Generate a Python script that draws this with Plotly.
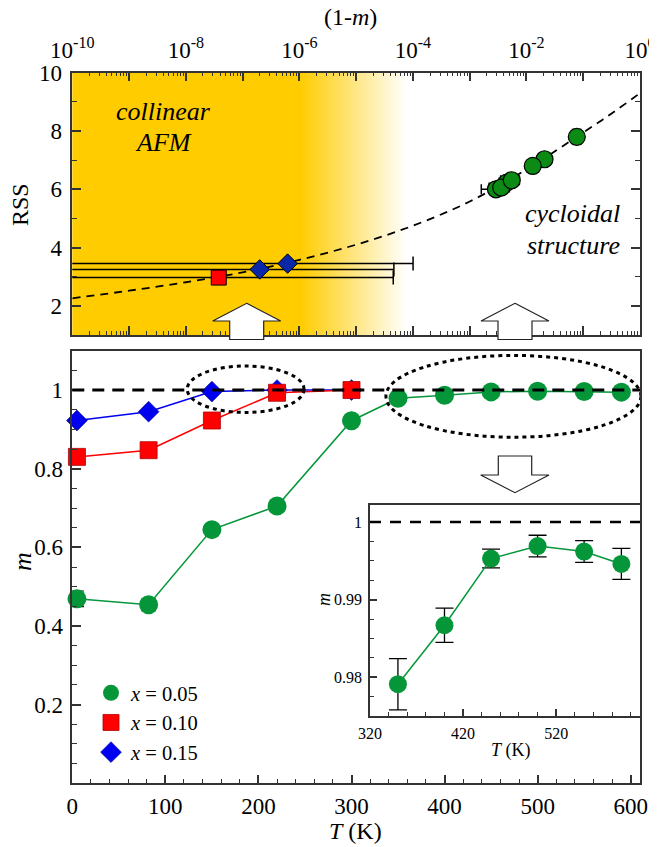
import plotly.graph_objects as go

OFF = 8                      # page body margin
W, H = 657 - OFF, 847 - OFF  # figure size so the page fits the window
FONT = "Liberation Serif"
AX = "#333333"

# ---------------- top panel data: RSS vs (1-m) ----------------
curve_one_minus_m = [1e-10, 1e-9, 1e-8, 1e-7, 1e-6, 1e-5, 1e-4, 1e-3, 1e-2, 1e-1, 0.316, 1.0]
curve_rss = [2.26, 2.52, 2.81, 3.15, 3.58, 4.10, 4.75, 5.58, 6.68, 7.95, 8.60, 9.30]

top_green_x = [0.077, 0.0208, 0.0129, 0.0045, 0.0029, 0.0036, 0.0055]
top_green_rss = [7.80, 7.03, 6.80, 6.23, 6.00, 6.06, 6.31]
top_green_xerr = [0.008, 0.0033, 0.0022, 0.0012, 0.0013, 0.0014, 0.0020]
top_green_yerr = [0.25, 0.20, 0.20, 0.20, 0.20, 0.20, 0.20]

top_red_x = [3.8e-8]
top_red_rss = [2.97]
top_red_xerr = [4.5e-5]

top_blue_x = [2.0e-7, 6.2e-7]
top_blue_rss = [3.25, 3.45]
top_blue_xerr = [4.6e-5, 1.0e-4]

top_ticks = [1e-10, 1e-9, 1e-8, 1e-7, 1e-6, 1e-5, 1e-4, 1e-3, 1e-2, 1e-1, 1.0]
top_ticktext = ["10<sup>-10</sup>", " ", "10<sup>-8</sup>", " ", "10<sup>-6</sup>", " ",
                "10<sup>-4</sup>", " ", "10<sup>-2</sup>", " ", "10<sup>0</sup>"]

# ---------------- bottom panel data: m vs T ----------------
T_green = [5, 82, 150, 220, 300, 350, 400, 450, 500, 550, 590]
m_green = [0.469, 0.454, 0.645, 0.705, 0.922, 0.9791, 0.9867, 0.9953, 0.9969, 0.9962, 0.9946]
err_green = [0.020, 0.015, 0.010, 0.008, 0.006, 0.0033, 0.0022, 0.0012, 0.0014, 0.0014, 0.0020]

T_red = [5, 82, 150, 220, 300]
m_red = [0.830, 0.847, 0.9225, 0.993, 1.000]
err_red = [0.010, 0.008, 0.006, 0.004, 0.002]

T_blue = [5, 82, 150, 220, 300]
m_blue = [0.9225, 0.945, 0.996, 1.000, 1.000]
err_blue = [0.001, 0.001, 0.001, 0.001, 0.002]

main_yticks = [0.2, 0.4, 0.6, 0.8, 1.0]
main_yticktext = ["0.2", "0.4", "0.6", "0.8", "1"]
inset_yticks = [0.98, 0.99, 1.0]
inset_yticktext = ["0.98", "0.99", "1"]
inset_xticks = [320, 420, 520]

GREEN_TOP = "#0B8A14"
BLUE_TOP = "#0828A8"
GREEN = "#05963A"
RED = "#FF0000"
BLUE = "#0000F0"


def fx(x):
    return (x - OFF) / W


def fy(y):
    return 1 - (y - OFF) / H


fig = go.Figure()

# ---------- top panel ----------
fig.add_trace(go.Scatter(x=curve_one_minus_m, y=curve_rss, mode="lines",
                         line=dict(color="black", width=1.8, dash="8px,6px", shape="spline"),
                         xaxis="x", yaxis="y", showlegend=False, hoverinfo="skip"))
fig.add_trace(go.Scatter(x=top_red_x + top_blue_x, y=top_red_rss + top_blue_rss, mode="markers",
                         marker=dict(size=1, opacity=0),
                         error_x=dict(type="data", array=top_red_xerr + top_blue_xerr, color="black", thickness=1.5, width=7),
                         xaxis="x", yaxis="y", showlegend=False))
fig.add_trace(go.Scatter(x=top_red_x, y=top_red_rss, mode="markers",
                         marker=dict(symbol="square", size=15, color=RED, line=dict(color="black", width=1)),
                         xaxis="x", yaxis="y", showlegend=False))
fig.add_trace(go.Scatter(x=top_blue_x, y=top_blue_rss, mode="markers",
                         marker=dict(symbol="diamond", size=15, color=BLUE_TOP, line=dict(color="black", width=1)),
                         xaxis="x", yaxis="y", showlegend=False))
fig.add_trace(go.Scatter(x=top_green_x, y=top_green_rss, mode="markers",
                         marker=dict(symbol="circle", size=17, color=GREEN_TOP, line=dict(color="black", width=1.2)),
                         error_x=dict(type="data", array=top_green_xerr, color="black", thickness=1.5, width=5),
                         error_y=dict(type="data", array=top_green_yerr, color="black", thickness=1.5, width=5),
                         xaxis="x", yaxis="y", showlegend=False))

# ---------- bottom panel: connecting lines ----------
for tx, ty, col in ((T_blue, m_blue, BLUE), (T_red, m_red, RED), (T_green, m_green, GREEN)):
    fig.add_trace(go.Scatter(x=tx, y=ty, mode="lines", line=dict(color=col, width=1.5),
                             xaxis="x2", yaxis="y2", showlegend=False, hoverinfo="skip", cliponaxis=False))

# ---------- bottom panel: markers ----------
fig.add_trace(go.Scatter(x=T_blue, y=m_blue, mode="markers", name="<i>x</i> = 0.15", legendrank=3,
                         marker=dict(symbol="diamond", size=16, color=BLUE, line=dict(color="#00008A", width=0.6)),
                         error_y=dict(type="data", array=err_blue, color="black", thickness=1.2, width=6),
                         xaxis="x2", yaxis="y2", cliponaxis=False))
fig.add_trace(go.Scatter(x=T_red, y=m_red, mode="markers", name="<i>x</i> = 0.10", legendrank=2,
                         marker=dict(symbol="square", size=17, color=RED, line=dict(color="#B00000", width=0.8)),
                         error_y=dict(type="data", array=err_red, color="black", thickness=1.2, width=6),
                         xaxis="x2", yaxis="y2", cliponaxis=False))
fig.add_trace(go.Scatter(x=T_green, y=m_green, mode="markers", name="<i>x</i> = 0.05", legendrank=1,
                         marker=dict(symbol="circle", size=19, color=GREEN, line=dict(color=GREEN, width=0)),
                         error_y=dict(type="data", array=err_green, color="black", thickness=1.2, width=7),
                         xaxis="x2", yaxis="y2", cliponaxis=False))

# ---------- inset ----------
fig.add_trace(go.Scatter(x=T_green[5:], y=m_green[5:], mode="lines+markers", showlegend=False,
                         line=dict(color=GREEN, width=1.5),
                         marker=dict(symbol="circle", size=18, color=GREEN),
                         error_y=dict(type="data", array=err_green[5:], color="black", thickness=1.3, width=9),
                         xaxis="x3", yaxis="y3", cliponaxis=False))

xd = [fx(72.3), fx(640)]
top_d = [fy(335), fy(72.7)]
bot_d = [fy(783.3), fy(350.7)]
ins_x = [fx(370), fx(640)]
ins_y = [fy(716), fy(505)]

common = dict(showline=True, linecolor=AX, linewidth=1.5, ticks="inside", tickcolor=AX, tickwidth=1.5,
              showgrid=False, zeroline=False, automargin=False, tickfont=dict(family=FONT, size=23, color="black"))

fig.update_layout(
    width=W, height=H, margin=dict(l=0, r=0, t=0, b=0, autoexpand=False),
    paper_bgcolor="white", plot_bgcolor="white",
    font=dict(family=FONT, color="black"),
    xaxis=dict(common, type="log", range=[-10, 0], side="top", domain=xd, anchor="y",
               tickmode="array", tickvals=top_ticks, ticktext=top_ticktext, ticklen=9, mirror="ticks",
               minor=dict(ticks="inside", ticklen=4, dtick="D1", tickcolor=AX, tickwidth=1.2), ticklabelstandoff=4),
    yaxis=dict(common, range=[1, 10], tick0=0, dtick=2, domain=top_d, anchor="x", ticklen=9, mirror="ticks",
               minor=dict(ticks="inside", ticklen=5, dtick=1, tick0=1, tickcolor=AX, tickwidth=1.2), ticklabelstandoff=4),
    xaxis2=dict(common, range=[0, 610], tick0=0, dtick=100, domain=xd, anchor="y2", ticklen=9, mirror=True,
                minor=dict(ticks="inside", ticklen=5, dtick=20, tick0=0, tickcolor=AX, tickwidth=1.2), ticklabelstandoff=1),
    yaxis2=dict(common, range=[0, 1.1], tickmode="array", tickvals=main_yticks, ticktext=main_yticktext, domain=bot_d,
                anchor="x2", ticklen=9, mirror=True,
                minor=dict(ticks="inside", ticklen=5, tickmode="linear", dtick=0.05, tick0=0, tickcolor=AX, tickwidth=1.2), ticklabelstandoff=3),
    xaxis3=dict(common, range=[320, 610], tickmode="array", tickvals=inset_xticks, domain=ins_x, anchor="y3", ticklen=7,
                mirror=True, tickfont=dict(family=FONT, size=16, color="black"),
                minor=dict(ticks="inside", ticklen=4, tickmode="linear", dtick=20, tick0=320, tickcolor=AX, tickwidth=1.2), ticklabelstandoff=2),
    yaxis3=dict(common, range=[0.975, 1.0022], tickmode="array", tickvals=inset_yticks, ticktext=inset_yticktext,
                domain=ins_y, anchor="x3", ticklen=7, mirror=True, tickfont=dict(family=FONT, size=16, color="black"),
                minor=dict(ticks="inside", ticklen=4, tickmode="linear", dtick=0.0025, tick0=0.975, tickcolor=AX, tickwidth=1.2), ticklabelstandoff=3),
    legend=dict(x=fx(91), y=fy(673), xanchor="left", yanchor="top", bgcolor="rgba(0,0,0,0)",
                font=dict(family=FONT, size=20.5, color="black"), traceorder="normal", tracegroupgap=0),
)

shapes = []
# orange background with fade in the top panel
x_solid = (300 - 72.3) / (640 - 72.3)
x_fade_end = (407 - 72.3) / (640 - 72.3)
shapes.append(dict(type="rect", xref="x domain", yref="y domain", x0=0, x1=x_solid + 0.002, y0=0, y1=1,
                   fillcolor="rgb(255,204,0)", line=dict(width=0), layer="below"))
N = 60
for i in range(N):
    t0 = i / N
    t1 = (i + 1) / N
    tc = (i + 0.5) / N
    g = int(round(204 + 51 * tc))
    b = int(round(255 * tc))
    shapes.append(dict(type="rect", xref="x domain", yref="y domain",
                       x0=x_solid + (x_fade_end - x_solid) * t0,
                       x1=x_solid + (x_fade_end - x_solid) * t1 + 0.002, y0=0, y1=1,
                       fillcolor=f"rgb(255,{g},{b})", line=dict(width=0), layer="below"))

# dashed m = 1 reference lines
shapes.append(dict(type="line", xref="x2 domain", yref="y2", x0=0, x1=1, y0=1, y1=1,
                   line=dict(color="black", width=3, dash="12px,8px"), layer="above"))
shapes.append(dict(type="line", xref="x3 domain", yref="y3", x0=0, x1=1, y0=1, y1=1,
                   line=dict(color="black", width=2.5, dash="11px,9px"), layer="above"))
# dotted ellipses
shapes.append(dict(type="circle", xref="x2", yref="y2", x0=123.5, x1=249, y0=0.943, y1=1.061,
                   line=dict(color="black", width=3, dash="4px,4px"), layer="above"))
shapes.append(dict(type="circle", xref="x2", yref="y2", x0=337, x1=611, y0=0.880, y1=1.088,
                   line=dict(color="black", width=3, dash="4px,4px"), layer="above"))


def ppath(pts):
    return "M " + " L ".join(f"{fx(x):.5f},{fy(y):.5f}" for x, y in pts) + " Z"


def up_arrow(cx):
    return [(cx, 303.3), (cx + 34, 321), (cx + 17, 321), (cx + 17, 339.5),
            (cx - 17, 339.5), (cx - 17, 321), (cx - 34, 321)]


for cx in (246.7, 515):
    shapes.append(dict(type="path", xref="paper", yref="paper", path=ppath(up_arrow(cx)),
                       fillcolor="white", line=dict(color="#222", width=1.2), layer="above"))
down = [(498.3, 456), (531.7, 456), (531.7, 475), (549, 475), (515, 492.7), (480.7, 475), (498.3, 475)]
shapes.append(dict(type="path", xref="paper", yref="paper", path=ppath(down),
                   fillcolor="white", line=dict(color="#222", width=1.2), layer="above"))
fig.update_layout(shapes=shapes)

ann = []


def txt(text, x, y, size, angle=0):
    ann.append(dict(text=text, x=fx(x), y=fy(y), xref="paper", yref="paper", showarrow=False,
                    xanchor="center", yanchor="middle", textangle=angle,
                    font=dict(family=FONT, size=size, color="black")))


txt("(1-<i>m</i>)", 350, 17, 24)
txt("RSS", 20, 205, 24, -90)
txt("<i>m</i>", 22, 562, 26, -90)
txt("<i>T</i> (K)", 355, 831, 24)
txt("<i>m</i>", 324, 600, 18, -90)
txt("<i>T</i> (K)", 511, 750, 18)
txt("<i>collinear</i>", 163, 111, 26)
txt("<i>AFM</i>", 163, 142, 26)
txt("<i>cycloidal</i>", 572, 213, 26)
txt("<i>structure</i>", 573, 245, 26)
fig.update_layout(annotations=ann)

fig.write_html("out.html")
